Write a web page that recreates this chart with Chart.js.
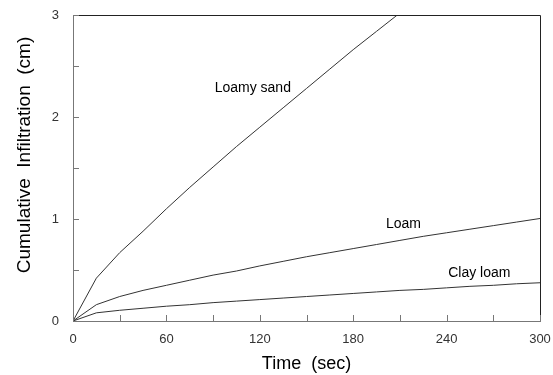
<!DOCTYPE html>
<html>
<head>
<meta charset="utf-8">
<script src="https://cdn.jsdelivr.net/npm/chart.js@4.4.1/dist/chart.umd.min.js"></script>
<style>
  html, body { margin: 0; padding: 0; background: #fff; }
  #wrap { width: 553px; height: 375px; position: relative; }
</style>
</head>
<body>
<div id="wrap"><canvas id="chart"></canvas></div>
<script>
// time in seconds
const timeSec = [0, 15, 30, 45, 60, 75, 90, 105, 120, 135, 150, 165, 180, 195, 210, 225, 240, 255, 270, 285, 300];

// cumulative infiltration (cm)
const loamySand = [0, 0.42, 0.67, 0.88, 1.10, 1.31, 1.51, 1.71, 1.90, 2.09, 2.28, 2.47, 2.66, 2.84, 3.02];
const loam = [0, 0.16, 0.24, 0.30, 0.35, 0.40, 0.45, 0.49, 0.54, 0.585, 0.63, 0.67, 0.71, 0.75, 0.79, 0.83, 0.865, 0.90, 0.935, 0.97, 1.005];
const clayLoam = [0, 0.08, 0.105, 0.125, 0.145, 0.16, 0.18, 0.195, 0.21, 0.225, 0.24, 0.255, 0.27, 0.285, 0.30, 0.31, 0.325, 0.34, 0.35, 0.365, 0.375];

const seriesNames = ['Loamy sand', 'Loam', 'Clay loam'];
// where each curve name is written (data coordinates)
const labelPos = [
  { x: 91, y: 2.28 },
  { x: 201, y: 0.95 },
  { x: 241, y: 0.47 }
];

const toPoints = (vals) => vals.map((v, i) => ({ x: timeSec[i], y: v }));

// frame, inward ticks and texts
const framePlugin = {
  id: 'frame',
  afterDraw(chart) {
    const { ctx, chartArea: a, scales } = chart;
    ctx.save();
    ctx.strokeStyle = '#222';
    ctx.lineWidth = 1;
    ctx.beginPath();
    ctx.moveTo(a.left, a.top + 0.5);
    ctx.lineTo(a.right + 0.5, a.top + 0.5);
    ctx.lineTo(a.right + 0.5, a.bottom);
    ctx.stroke();

    ctx.strokeStyle = '#777';
    ctx.beginPath();
    scales.x.ticks.forEach(t => {
      const px = Math.round(scales.x.getPixelForValue(t.value)) + 0.5;
      ctx.moveTo(px, a.bottom);
      ctx.lineTo(px, a.bottom - 6);
    });
    scales.y.ticks.forEach(t => {
      const py = Math.round(scales.y.getPixelForValue(t.value)) + 0.5;
      ctx.moveTo(a.left, py);
      ctx.lineTo(a.left + 6, py);
    });
    ctx.stroke();

    ctx.fillStyle = '#000';
    ctx.font = '14px "Liberation Sans", Arial, sans-serif';
    ctx.textAlign = 'left';
    ctx.textBaseline = 'middle';
    seriesNames.forEach((name, i) => {
      ctx.fillText(name, scales.x.getPixelForValue(labelPos[i].x), scales.y.getPixelForValue(labelPos[i].y));
    });

    ctx.font = '18px "Liberation Sans", Arial, sans-serif';
    ctx.textAlign = 'center';
    ctx.fillText('Time  (sec)', (a.left + a.right) / 2, 364);

    ctx.translate(25, 155);
    ctx.rotate(-Math.PI / 2);
    ctx.font = '19px "Liberation Sans", Arial, sans-serif';
    ctx.fillText('Cumulative  Infiltration  (cm)', 0, 0);
    ctx.restore();
  }
};

const lineStyle = {
  borderColor: '#333',
  borderWidth: 1,
  pointRadius: 0,
  fill: false,
  tension: 0
};

new Chart(document.getElementById('chart').getContext('2d'), {
  type: 'line',
  data: {
    datasets: [
      { label: seriesNames[0], data: toPoints(loamySand), ...lineStyle },
      { label: seriesNames[1], data: toPoints(loam), ...lineStyle },
      { label: seriesNames[2], data: toPoints(clayLoam), ...lineStyle }
    ]
  },
  options: {
    responsive: true,
    maintainAspectRatio: false,
    animation: false,
    layout: { padding: { top: 15, right: 13, left: 0, bottom: 0 } },
    plugins: {
      legend: { display: false },
      tooltip: { enabled: false }
    },
    scales: {
      x: {
        type: 'linear',
        min: 0,
        max: 300,
        grid: { display: false, drawTicks: false },
        border: { color: '#777', width: 1 },
        ticks: {
          stepSize: 30,
          padding: 11,
          color: '#333',
          font: { size: 13, family: '"Liberation Sans", Arial, sans-serif' },
          maxRotation: 0,
          autoSkip: false,
          callback: (v) => (v % 60 === 0 ? String(v) : '')
        },
        afterFit: (s) => {
          s.height = 54;
          s.paddingLeft = 0;
          s.paddingRight = 0;
        }
      },
      y: {
        min: 0,
        max: 3,
        grid: { display: false, drawTicks: false },
        border: { color: '#777', width: 1 },
        ticks: {
          stepSize: 0.5,
          padding: 14,
          color: '#333',
          font: { size: 13, family: '"Liberation Sans", Arial, sans-serif' },
          autoSkip: false,
          callback: (v) => (Number.isInteger(v) ? String(v) : '')
        },
        afterFit: (s) => {
          s.width = 73;
          s.paddingTop = 0;
          s.paddingBottom = 0;
        }
      }
    }
  },
  plugins: [framePlugin]
});
</script>
</body>
</html>
